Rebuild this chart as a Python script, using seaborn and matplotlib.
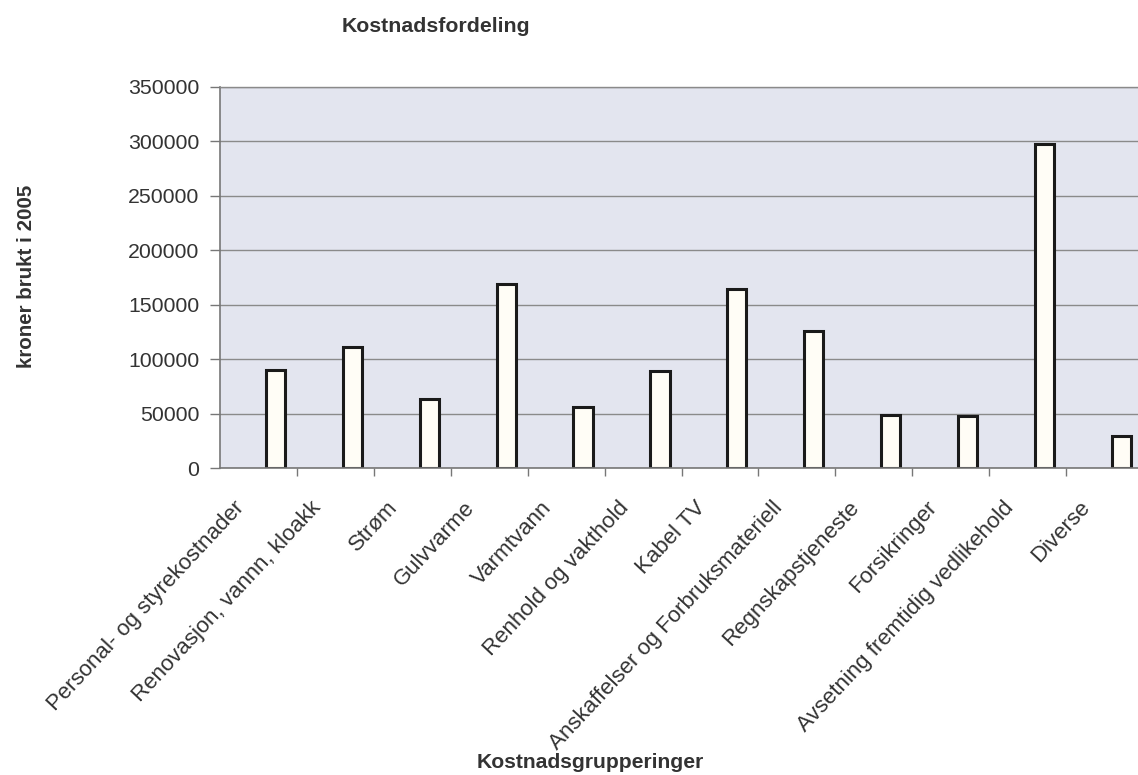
import matplotlib
matplotlib.use("Agg")
import matplotlib.pyplot as plt
import matplotlib.transforms as mtransforms
import seaborn as sns

categories = ["Personal- og styrekostnader", "Renovasjon, vannn, kloakk", "Strøm",
              "Gulvvarme", "Varmtvann", "Renhold og vakthold", "Kabel TV",
              "Anskaffelser og Forbruksmateriell", "Regnskapstjeneste",
              "Forsikringer", "Avsetning fremtidig vedlikehold", "Diverse"]
kroner = [90000, 111000, 63000, 169000, 56000, 89000, 164000,
          126000, 49000, 48000, 298000, 29000]
yticks = [0, 50000, 100000, 150000, 200000, 250000, 300000, 350000]

sns.set_theme(style="white")
plt.rcParams["font.family"] = ["Liberation Sans", "DejaVu Sans"]
text_col = "#333333"

fig = plt.figure(figsize=(11.38, 7.75), dpi=100)
ax = fig.add_axes([220 / 1138, 1 - 468 / 775, 923 / 1138, 381 / 775])
ax.set_facecolor("#e3e5ef")

sns.barplot(x=categories, y=kroner, width=0.25, color="#fffdf6",
            edgecolor="#1a1a1a", linewidth=2.2, saturation=1, ax=ax)
# bars sit right of the category centre, like an Excel clustered column with an empty series
for p in ax.patches:
    p.set_x(p.get_x() + 0.22)

ax.set_xlim(-0.5, len(categories) - 0.5)
ax.set_ylim(0, 350000)
ax.set_yticks(yticks)
ax.set_yticklabels([str(v) for v in yticks], fontsize=15.3, color=text_col)
ax.yaxis.grid(True, color="#8a8a8a", linewidth=1)
ax.set_axisbelow(True)

for side in ["top", "right"]:
    ax.spines[side].set_color("#8a8a8a")
    ax.spines[side].set_linewidth(1)
for side in ["left", "bottom"]:
    ax.spines[side].set_color("#777777")
    ax.spines[side].set_linewidth(1.2)

ax.tick_params(axis="y", direction="out", length=7, width=1, color="#777777", pad=8, left=True)
ax.set_xticks([i + 0.5 for i in range(len(categories) - 1)], minor=True)
ax.tick_params(axis="x", which="minor", direction="out", length=6, width=1, color="#777777", bottom=True)
ax.tick_params(axis="x", which="major", length=0, pad=0)

ax.set_xticks(range(len(categories)))
ax.set_xticklabels(categories, rotation=47, ha="right", va="top",
                   fontsize=16, color=text_col)
offset = mtransforms.ScaledTranslation(-10 / 100, -29 / 100, fig.dpi_scale_trans)
for lab in ax.get_xticklabels():
    lab.set_transform(lab.get_transform() + offset)

ax.set_xlabel("")
ax.set_ylabel("")

fig.text(436 / 1138, 1 - 26 / 775, "Kostnadsfordeling", ha="center", va="center",
         fontsize=15.3, fontweight="bold", color=text_col)
fig.text(590 / 1138, 1 - 762 / 775, "Kostnadsgrupperinger", ha="center", va="center",
         fontsize=15.2, fontweight="bold", color=text_col)
fig.text(27 / 1138, 1 - 276 / 775, "kroner brukt i 2005", ha="center", va="center",
         rotation=90, fontsize=14.8, fontweight="bold", color=text_col)

fig.savefig("out.png", dpi=100, facecolor="white")
